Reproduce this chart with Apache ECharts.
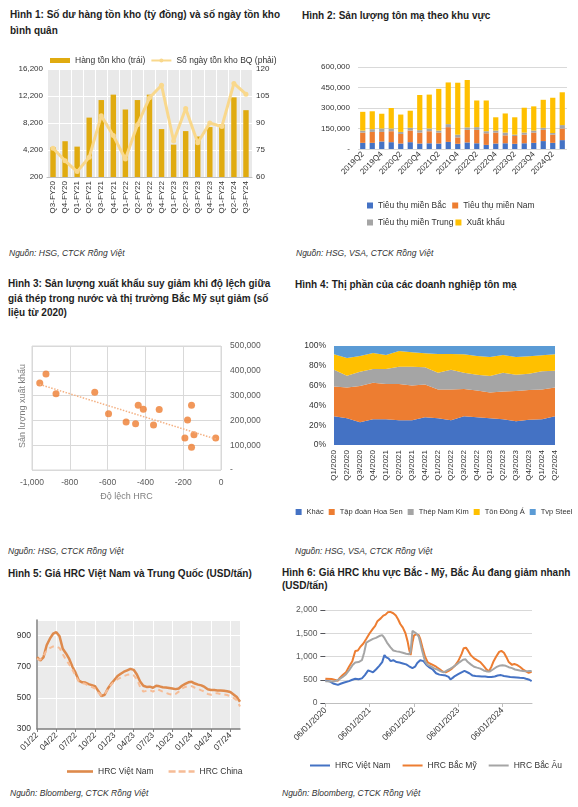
<!DOCTYPE html>
<html><head><meta charset="utf-8">
<script src="https://cdn.jsdelivr.net/npm/echarts@6/dist/echarts.min.js"></script>
<style>
body{margin:0;width:578px;height:807px;background:#fff;position:relative;overflow:hidden;font-family:"Liberation Sans",Arial,sans-serif;}
.t{position:absolute;font-weight:bold;font-size:10px;color:#1e1e1e;white-space:nowrap;}
.s{position:absolute;font-style:italic;font-size:8.5px;color:#333;white-space:nowrap;}
.c{position:absolute;}
</style></head><body>
<div class="t" style="left:10px;top:7px;line-height:15.5px;">Hình 1: Số dư hàng tồn kho (tỷ đồng) và số ngày tồn kho<br>bình quân</div>
<div class="t" style="left:302px;top:9px;line-height:14px;">Hình 2: Sản lượng tôn mạ theo khu vực</div>
<div class="t" style="left:8px;top:277px;line-height:14.5px;">Hình 3: Sản lượng xuất khẩu suy giảm khi độ lệch giữa<br>giá thép trong nước và thị trường Bắc Mỹ sụt giảm (số<br>liệu từ 2020)</div>
<div class="t" style="left:295px;top:278px;line-height:14px;">Hình 4: Thị phần của các doanh nghiệp tôn mạ</div>
<div class="t" style="left:8px;top:567px;line-height:14px;">Hình 5: Giá HRC Việt Nam và Trung Quốc (USD/tấn)</div>
<div class="t" style="left:282px;top:567px;line-height:12.7px;">Hình 6: Giá HRC khu vực Bắc - Mỹ, Bắc Âu đang giảm nhanh<br>(USD/tấn)</div>
<div class="s" style="left:9px;top:248px;">Nguồn: HSG, CTCK Rồng Việt</div>
<div class="s" style="left:296px;top:248px;">Nguồn: HSG, VSA, CTCK Rồng Việt</div>
<div class="s" style="left:8px;top:546px;">Nguồn: HSG, CTCK Rồng Việt</div>
<div class="s" style="left:295px;top:546px;">Nguồn: HSG, VSA, CTCK Rồng Việt</div>
<div class="s" style="left:10px;top:788px;">Nguồn: Bloomberg, CTCK Rồng Việt</div>
<div class="s" style="left:282px;top:788px;">Nguồn: Bloomberg, CTCK Rồng Việt</div>

<div id="c1" class="c" style="left:0;top:40px;width:290px;height:200px;"></div>
<div id="c2" class="c" style="left:290px;top:40px;width:288px;height:200px;"></div>
<div id="c3" class="c" style="left:0;top:330px;width:290px;height:180px;"></div>
<div id="c4" class="c" style="left:290px;top:330px;width:288px;height:190px;"></div>
<div id="c5" class="c" style="left:0;top:600px;width:290px;height:185px;"></div>
<div id="c6" class="c" style="left:290px;top:600px;width:288px;height:185px;"></div>
<script>
// ---- Chart 1 data ----
const cat1 = ['Q3-FY20','Q4-FY20','Q1-FY21','Q2-FY21','Q3-FY21','Q4-FY21','Q1-FY22','Q2-FY22','Q3-FY22','Q4-FY22','Q1-FY23','Q2-FY23','Q3-FY23','Q4-FY23','Q1-FY24','Q2-FY24','Q3-FY24'];
const inventory1 = [4600,5500,4700,9000,11600,12400,10200,11600,12400,7300,5000,7000,6200,7600,8000,12000,10100];
const invDays1 = [76,69,63,71,94,83,70,89,104,111,80,98,79,90,88,112,106];

// ---- Chart 2 data ----
const cat2 = ['2019Q2','2019Q3','2019Q4','2020Q1','2020Q2','2020Q3','2020Q4','2021Q1','2021Q2','2021Q3','2021Q4','2022Q1','2022Q2','2022Q3','2022Q4','2023Q1','2023Q2','2023Q3','2023Q4','2024Q1','2024Q2','2024Q3'];
const north2 = [45000,45000,55000,50000,40000,50000,40000,42000,40000,52000,38000,48000,42000,30000,40000,42000,38000,42000,45000,58000,45000,65000];
const south2 = [75000,80000,70000,80000,70000,85000,80000,88000,80000,108000,47000,92000,98000,85000,80000,58000,57000,63000,75000,82000,60000,85000];
const central2 = [15000,20000,25000,20000,15000,20000,18000,20000,15000,22000,20000,18000,20000,15000,15000,20000,10000,15000,15000,15000,12000,25000];
const export2 = [137000,131000,108000,150000,127000,125000,257000,248000,305000,305000,380000,347000,195000,225000,97000,140000,127000,182000,177000,205000,258000,240000];

// ---- Chart 3 data ----
const hrcGap3 = [-959,-926,-873,-668,-595,-502,-452,-438,-411,-357,-327,-191,-177,-156,-156,-143,-28];
const exportVol3 = [351000,387000,307000,314000,227000,194000,186000,261000,245000,181000,244000,129000,202000,261000,92000,142000,129000];
const trendX3 = [-959,-28];
const trendY3 = [345000,125000];

// ---- Chart 4 data ----
const cat4 = ['Q1/2020','Q2/2020','Q3/2020','Q4/2020','Q1/2021','Q2/2021','Q3/2021','Q4/2021','Q1/2022','Q2/2022','Q3/2022','Q4/2022','Q1/2023','Q2/2023','Q3/2023','Q4/2023','Q1/2024','Q2/2024'];
const khac4 = [29,27,23,26,26,25,25,28,27,25,29,28,27,26,24,25.5,26,29];
const hoaSen4 = [30,31,36.6,37,35.6,36.6,35,33,29,31,27.6,27,26,28,30.5,30,30,29];
const namKim4 = [17,12,14.4,13.7,15.1,17.4,19,17.5,17,20,16.4,16,16.7,19,16.5,16.5,18.4,17];
const dongA4 = [15.6,18,16,16.3,14.3,16,14.6,14.1,19,16,18.6,19,19.3,18,18,17.6,16.2,16.6];
const tvp4 = [8.4,12,10,7,9,5,6.4,7.4,8,8,8.4,10,11,9,11,10.4,9.4,8.4];

// ---- Chart 5 data (half-monthly, Jan 2022 - Sep 2024) ----
const cat5 = [];
for (let k = 0; k < 64; k++) {
  const m = Math.floor(k / 2), y = 2022 + Math.floor(m / 12), mm = (m % 12) + 1;
  cat5.push(y + '-' + String(mm).padStart(2, '0') + '-' + (k % 2 ? '16' : '01'));
}
const hrcVN5 = [761,740,760,838,880,912,922,895,815,785,750,700,660,610,600,598,588,582,575,545,512,520,560,590,615,640,655,668,677,686,680,650,605,578,570,572,565,578,574,568,566,563,560,556,560,578,590,600,603,592,585,580,570,555,550,550,548,548,546,543,538,522,505,475];
const hrcCN5 = [750,745,770,805,820,830,830,820,780,745,715,680,640,605,595,590,578,570,560,535,515,525,555,585,605,620,630,640,648,652,645,620,570,540,545,550,540,555,550,540,532,525,520,525,540,560,570,575,575,565,558,548,540,525,520,528,530,525,522,518,510,500,485,445];

// ---- Chart 6 data ([months since 06/01/2020, USD/t]) ----
const hrcVN6 = [[0,490],[1.3,460],[2.1,420],[2.6,390],[3.4,390],[4.3,420],[5.1,440],[6.4,470],[7.3,500],[8.1,520],[9,510],[9.9,530],[10.7,600],[11.6,700],[12.3,680],[12.9,660],[13.7,720],[14.6,800],[15.4,880],[16,1030],[16.5,980],[17.1,960],[17.7,900],[18.4,920],[19.3,880],[20.1,870],[21,850],[21.9,830],[22.7,790],[23.6,750],[24.3,780],[24.9,860],[25.7,920],[26.6,900],[27.4,820],[28.3,760],[29.1,720],[30,640],[30.9,610],[31.7,600],[32.6,590],[33.4,560],[33.9,510],[34.5,540],[35.1,580],[36,620],[36.9,660],[37.7,690],[38.1,690],[39,640],[39.9,590],[40.7,580],[41.6,575],[42.4,570],[43.3,570],[44.1,560],[45,560],[45.9,570],[46.7,590],[47.6,600],[48.4,580],[49.3,570],[50.1,560],[51,555],[51.9,550],[52.7,545],[53.6,540],[54.4,520],[55.3,500],[55.9,470]];
const hrcUS6 = [[0,520],[1.7,515],[2.1,480],[3.4,480],[3.9,540],[4.7,600],[5.6,660],[6.4,780],[7.3,900],[8.1,1120],[8.8,1130],[9.4,1200],[10.3,1280],[11.1,1380],[12,1500],[12.9,1600],[13.5,1660],[14.1,1760],[15,1820],[15.7,1880],[16.3,1900],[16.9,1950],[17.6,1960],[18.4,1930],[19.1,1880],[19.7,1800],[20.3,1700],[21,1620],[21.7,1500],[22.3,1320],[22.7,1150],[23.1,1030],[23.6,1300],[24,1450],[24.6,1480],[25.3,1460],[25.7,1380],[26.3,1200],[27,1000],[27.7,880],[28.3,850],[29.1,820],[30,780],[30.9,730],[31.7,680],[32.6,660],[33.4,690],[34.3,740],[35.1,800],[36,900],[36.9,1050],[37.5,1180],[38.1,1190],[38.7,1120],[39.4,1030],[40.3,960],[41.1,920],[42,880],[42.9,800],[43.7,720],[44.3,680],[45,780],[45.6,900],[46.3,1000],[47.1,1100],[47.7,1120],[48.4,1080],[49.1,980],[49.7,880],[50.6,820],[51.2,840],[51.9,820],[52.7,780],[53.6,720],[54.4,680],[55.1,650],[55.9,670]];
const hrcEU6 = [[0,470],[2.1,460],[3,480],[3.9,520],[4.7,560],[5.6,620],[6.4,700],[7.3,810],[8.1,870],[9,880],[9.9,920],[10.5,1080],[11.1,1300],[12,1340],[12.9,1380],[13.7,1400],[14.6,1440],[15.4,1460],[16,1400],[16.7,1300],[17.6,1200],[18.4,1130],[19.3,1110],[20.1,1100],[21,1080],[21.9,1060],[22.7,1050],[23.1,1100],[23.6,1550],[24,1590],[24.6,1500],[25.3,1430],[25.7,1300],[26.3,1100],[27,900],[27.7,820],[28.7,780],[29.6,740],[30.4,720],[31.3,680],[32.1,660],[33,700],[33.9,740],[34.7,780],[35.6,830],[36.4,880],[37.3,930],[38,940],[38.6,880],[39.4,830],[40.3,780],[41.1,760],[42,740],[42.9,700],[43.7,680],[44.6,680],[45.4,720],[46.3,770],[47.1,800],[48,810],[48.9,800],[49.7,770],[50.6,750],[51.4,720],[52.7,700],[53.6,690],[54.4,680],[55.3,690],[55.9,690]];
const years6 = [2020,2021,2022,2023,2024];

const FF = '"Liberation Sans", Arial, sans-serif';
const fmt = v => v.toLocaleString('en-US');
const SOLID = 'path://M0,0H26V2.6H0Z';
const DASH = 'path://M0,0H7V2.6H0Z M10,0H17V2.6H10Z M20,0H26V2.6H20Z';
function mk(id, opt) {
  const c = echarts.init(document.getElementById(id));
  opt.animation = false;
  opt.textStyle = { fontFamily: FF };
  c.setOption(opt);
}

// Chart 1
mk('c1', {
  grid: { left: 47, top: 29, width: 205, height: 108, show: true, backgroundColor: '#e9e9e9', borderWidth: 0 },
  legend: { left: 45, top: 11, itemWidth: 20, itemHeight: 5, itemGap: 5, textStyle: { fontSize: 8.5, color: '#333' },
    data: [{ name: 'Hàng tồn kho (trái)', icon: 'rect' }, { name: 'Số ngày tồn kho BQ (phải)' }] },
  xAxis: { type: 'category', data: cat1, axisLabel: { rotate: 90, fontSize: 8, color: '#333', interval: 0, margin: 4 },
    axisTick: { show: false }, axisLine: { lineStyle: { color: '#bfbfbf' } }, splitLine: { show: true, lineStyle: { color: '#fff' } } },
  yAxis: [
    { type: 'value', min: 200, max: 16200, interval: 4000, axisLabel: { fontSize: 8, color: '#333', formatter: fmt, margin: 4 },
      splitLine: { lineStyle: { color: '#fff' } }, axisLine: { show: false } },
    { type: 'value', min: 60, max: 120, interval: 15, axisLabel: { fontSize: 8, color: '#333', margin: 4 }, splitLine: { show: false } }
  ],
  series: [
    { name: 'Hàng tồn kho (trái)', type: 'bar', data: inventory1, barWidth: '45%', itemStyle: { color: '#E0AB10' } },
    { name: 'Số ngày tồn kho BQ (phải)', type: 'line', yAxisIndex: 1, data: invDays1, symbol: 'circle', symbolSize: 5,
      lineStyle: { width: 3, color: '#F9D88C' }, itemStyle: { color: '#F9D88C' } }
  ]
});

// Chart 2
const legText = { fontSize: 8.5, color: '#333' };
mk('c2', {
  grid: { left: 68, top: 27, width: 209, height: 82 },
  legend: [
    { left: 72, top: 156, icon: 'rect', itemWidth: 6, itemHeight: 6, itemGap: 6, textStyle: legText, data: ['Tiêu thụ miền Bắc', 'Tiêu thụ miền Nam'] },
    { left: 72, top: 173, icon: 'rect', itemWidth: 6, itemHeight: 6, itemGap: 2, textStyle: legText, data: ['Tiêu thụ miền Trung', 'Xuất khẩu'] }
  ],
  xAxis: { type: 'category', data: cat2, axisLabel: { rotate: 45, fontSize: 8, color: '#333', interval: 1, margin: 4 },
    axisTick: { show: false }, axisLine: { show: false } },
  yAxis: { type: 'value', min: 0, max: 600000, interval: 150000,
    axisLabel: { fontSize: 8, color: '#333', formatter: v => v === 0 ? '-' : fmt(v), margin: 8 },
    splitLine: { lineStyle: { color: '#d9d9d9' } } },
  series: [
    { name: 'Tiêu thụ miền Bắc', type: 'bar', stack: 's', data: north2, barWidth: '55%', itemStyle: { color: '#4472C4' } },
    { name: 'Tiêu thụ miền Nam', type: 'bar', stack: 's', data: south2, itemStyle: { color: '#ED7D31' } },
    { name: 'Tiêu thụ miền Trung', type: 'bar', stack: 's', data: central2, itemStyle: { color: '#A5A5A5' } },
    { name: 'Xuất khẩu', type: 'bar', stack: 's', data: export2, itemStyle: { color: '#FFC000' } }
  ]
});

// Chart 3
mk('c3', {
  grid: { left: 32, top: 16, width: 189, height: 124, show: true, borderColor: '#d9d9d9', borderWidth: 1 },
  xAxis: { type: 'value', min: -1000, max: 0, interval: 200, axisLine: { show: false }, axisTick: { show: false },
    splitLine: { lineStyle: { color: '#d9d9d9' } }, axisLabel: { fontSize: 8.5, color: '#595959', margin: 8 },
    name: 'Độ lệch HRC', nameLocation: 'middle', nameGap: 22, nameTextStyle: { fontSize: 9, color: '#7f7f7f' } },
  yAxis: { type: 'value', position: 'right', min: 0, max: 500000, interval: 100000, axisLine: { show: false }, axisTick: { show: false },
    splitLine: { lineStyle: { color: '#d9d9d9' } }, axisLabel: { fontSize: 8.5, color: '#595959', margin: 9, formatter: v => v === 0 ? '-' : fmt(v) } },
  graphic: [{ type: 'text', x: 23, y: 76, rotation: Math.PI / 2, style: { text: 'Sản lượng xuất khẩu', fill: '#7f7f7f', font: '9px ' + FF, textAlign: 'center', textVerticalAlign: 'middle' } }],
  series: [
    { type: 'scatter', data: hrcGap3.map((x, i) => [x, exportVol3[i]]), symbolSize: 7, itemStyle: { color: '#ED7D31' } },
    { type: 'line', data: trendX3.map((x, i) => [x, trendY3[i]]), symbol: 'none', lineStyle: { type: 'dotted', width: 1.5, color: '#F4B183' } }
  ]
});

// Chart 4
const area = (name, data, color) => ({ name, type: 'line', stack: 'p', data, symbol: 'none', lineStyle: { width: 0 }, areaStyle: { color, opacity: 1 }, itemStyle: { color } });
mk('c4', {
  grid: { left: 44, top: 16, width: 221, height: 99 },
  legend: { left: 'center', top: 173, icon: 'rect', itemWidth: 6, itemHeight: 6, itemGap: 5, textStyle: { fontSize: 7.5, color: '#333' } },
  xAxis: { type: 'category', data: cat4, boundaryGap: false, axisLabel: { rotate: 90, fontSize: 8, color: '#333', interval: 0, margin: 5 },
    axisTick: { show: false }, axisLine: { show: false } },
  yAxis: { type: 'value', min: 0, max: 100, interval: 20, axisLabel: { fontSize: 8.5, color: '#333', formatter: '{value}%', margin: 8 },
    splitLine: { show: false }, axisLine: { show: false } },
  series: [
    area('Khác', khac4, '#4472C4'),
    area('Tập đoàn Hoa Sen', hoaSen4, '#ED7D31'),
    area('Thép Nam Kim', namKim4, '#A5A5A5'),
    area('Tôn Đông Á', dongA4, '#FFC000'),
    area('Tvp Steel', tvp4, '#5B9BD5')
  ]
});

// Chart 5
mk('c5', {
  grid: { left: 37, top: 20, width: 203, height: 109, show: true, backgroundColor: '#ebebeb', borderWidth: 0 },
  legend: { left: 62, top: 162, itemWidth: 26, itemHeight: 3, itemGap: 15, textStyle: legText,
    data: [{ name: 'HRC Việt Nam', icon: SOLID }, { name: 'HRC China', icon: DASH }] },
  xAxis: { type: 'category', data: cat5, boundaryGap: false,
    axisLabel: { interval: 5, rotate: 45, fontSize: 8.5, color: '#333', margin: 5, formatter: v => v.slice(5, 7) + '/' + v.slice(2, 4) },
    axisTick: { interval: 5, length: 3, lineStyle: { color: '#7f7f7f' } }, axisLine: { lineStyle: { color: '#7f7f7f', width: 1.5 } },
    splitLine: { show: true, interval: 5, lineStyle: { color: '#fff' } } },
  yAxis: { type: 'value', min: 300, max: 1000, interval: 200,
    axisLabel: { fontSize: 8.5, color: '#333', margin: 6, formatter: v => v === 1000 ? '' : v },
    axisLine: { show: true, lineStyle: { color: '#7f7f7f', width: 1.5 } }, splitLine: { lineStyle: { color: '#fff' } } },
  series: [
    { name: 'HRC Việt Nam', type: 'line', data: hrcVN5, symbol: 'none', lineStyle: { width: 2.5, color: '#DE8A4C' }, itemStyle: { color: '#DE8A4C' } },
    { name: 'HRC China', type: 'line', data: hrcCN5, symbol: 'none', lineStyle: { width: 2, type: [5, 4], color: '#F6BC96' }, itemStyle: { color: '#F6BC96' } }
  ]
});

// Chart 6
mk('c6', {
  grid: { left: 25, top: 10, width: 217, height: 93 },
  legend: { left: 15, top: 156, itemWidth: 20, itemHeight: 2, itemGap: 12, textStyle: legText,
    data: [{ name: 'HRC Việt Nam', icon: SOLID }, { name: 'HRC Bắc Mỹ', icon: SOLID }, { name: 'HRC Bắc Âu', icon: SOLID }] },
  xAxis: { type: 'value', min: 0, max: 56,
    axisLabel: { customValues: [0, 12, 24, 36, 48], rotate: 45, fontSize: 8.5, color: '#333', margin: 6, formatter: v => '06/01/' + years6[v / 12] },
    axisTick: { customValues: [0, 12, 24, 36, 48], length: 4, lineStyle: { color: '#bfbfbf' } },
    axisLine: { lineStyle: { color: '#bfbfbf' } }, splitLine: { show: false } },
  yAxis: { type: 'value', min: 0, max: 2000, interval: 500, axisLabel: { fontSize: 8.5, color: '#595959', margin: 8 },
    splitLine: { lineStyle: { color: '#d9d9d9' } }, axisLine: { show: false } },
  series: [
    { name: 'HRC Việt Nam', type: 'line', data: hrcVN6, symbol: 'none', lineStyle: { width: 2, color: '#4472C4' }, itemStyle: { color: '#4472C4' } },
    { name: 'HRC Bắc Mỹ', type: 'line', data: hrcUS6, symbol: 'none', lineStyle: { width: 2, color: '#ED7D31' }, itemStyle: { color: '#ED7D31' } },
    { name: 'HRC Bắc Âu', type: 'line', data: hrcEU6, symbol: 'none', lineStyle: { width: 2, color: '#A5A5A5' }, itemStyle: { color: '#A5A5A5' } }
  ]
});
</script>
</body></html>
